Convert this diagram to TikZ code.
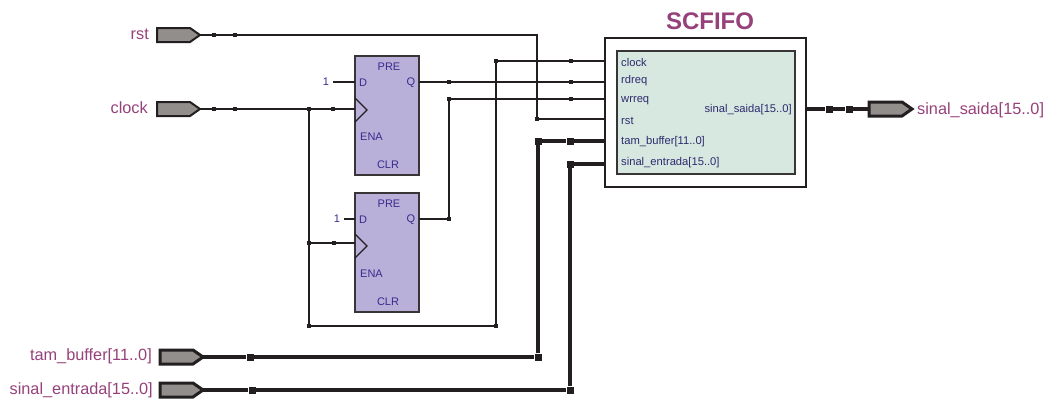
\documentclass[tikz,border=0pt]{standalone}
\usepackage{fontspec}
\setmainfont{Liberation Sans}
\usetikzlibrary{shapes.symbols}
\definecolor{sigtxt}{HTML}{96417A}
\definecolor{blktxt}{HTML}{3A2A8C}
\definecolor{fifotxt}{HTML}{2E2A6E}
\definecolor{ink}{HTML}{231F20}
\definecolor{pingray}{HTML}{918E8C}
\definecolor{fffill}{HTML}{B9B0D9}
\definecolor{fifofill}{HTML}{D6E8E0}
\tikzset{wire/.style={draw=ink, line width=1.8pt},
  bus/.style={draw=ink, line width=3.4pt},
  jn/.style={fill=ink, rectangle, inner sep=0pt, minimum size=4.5pt},
  jnb/.style={fill=ink, rectangle, inner sep=0pt, minimum size=7pt},
  pin/.style={signal, signal to=east, signal from=nowhere, signal pointer angle=70,
    draw=ink, fill=pingray, line width=2pt, inner sep=0pt, outer sep=0pt,
    minimum width=43pt, minimum height=14pt, anchor=west},
  buspin/.style={pin, line width=3pt},
  sig/.style={text=sigtxt, font=\fontsize{16.3}{18}\selectfont, inner sep=0pt},
  ff/.style={draw=ink!90, fill=fffill, line width=1.5pt, outer sep=0pt,
    minimum width=64pt, minimum height=119pt, anchor=north west},
  fftxt/.style={text=blktxt, font=\fontsize{11}{12}\selectfont, inner sep=0pt},
  port/.style={text=fifotxt, font=\fontsize{11.2}{12}\selectfont, inner sep=0pt, anchor=west}}

\begin{document}
\begin{tikzpicture}[x=1pt,y=-1pt]
\useasboundingbox (0,0) rectangle (1047,399);

% entity
\node[draw=ink, fill=white, line width=1.5pt, outer sep=0pt, minimum width=201pt, minimum height=149pt, anchor=north west] (fifo) at (605,38) {};
\node[draw=ink!90, fill=fifofill, line width=1.5pt, outer sep=0pt, minimum width=178pt, minimum height=123pt, anchor=north west] (fifo_in) at (617,51) {};
\node[text=sigtxt, font=\fontsize{24}{26}\selectfont\bfseries, inner sep=0pt] (fifo_name) at (710,21) {SCFIFO};
\foreach \nm/\lbl/\ytxt/\yw in {clock/clock/62/61, rdreq/rdreq/81/82, wrreq/wrreq/101/99, rst/rst/121/119,
    tam/tam\_buffer[11..0]/142/141, ent/sinal\_entrada[15..0]/163/164}{
  \node[port] (txt_\nm) at (621,\ytxt) {\lbl};
  \coordinate (port_\nm) at (605,\yw);
}
\node[port, anchor=east] (txt_saida) at (792,110) {sinal\_saida[15..0]};
\coordinate (port_saida) at (806,109);

% flip-flops
\foreach \ffn/\ytop/\yclk/\xone in {ffa/56/110/326, ffb/193/246/337}{
  \node[ff] (\ffn) at (355,\ytop) {};
  \node[fftxt] (\ffn_pre) at (389,\ytop+11) {PRE};
  \node[fftxt] (\ffn_d) at (363,\ytop+26.5) {D};
  \node[fftxt] (\ffn_q) at (411,\ytop+26.5) {Q};
  \node[fftxt, anchor=west] (\ffn_ena) at (360,\ytop+81) {ENA};
  \node[fftxt] (\ffn_clr) at (388,\ytop+109) {CLR};
  \node[fftxt] (\ffn_one) at (\xone,\ytop+26) {1};
  \draw[draw=ink, line width=1.3pt] (355,\yclk-12) -- (367,\yclk) -- (355,\yclk+12);
  \coordinate (\ffn_din) at (355,\ytop+26);
  \coordinate (\ffn_qout) at (419,\ytop+26);
  \coordinate (\ffn_from) at (\xone+7,\ytop+26);
  \draw[wire] (\ffn_from) -- (\ffn_din);
}
\coordinate (ffa_clk) at (355,109);
\coordinate (ffb_clk) at (355,243);

% pins
\node[pin] (rst_pin) at (157,35) {};
\node[pin] (clock_pin) at (157,109) {};
\node[buspin] (tam_pin) at (160,357) {};
\node[buspin] (ent_pin) at (160,390) {};
\node[buspin] (saida_pin) at (869,109) {};
\node[sig, anchor=east] (rst_lbl) at (149,34) {rst};
\node[sig, anchor=east] (clock_lbl) at (148,108) {clock};
\node[sig, anchor=east] (tam_lbl) at (152,356) {tam\_buffer[11..0]};
\node[sig, anchor=east] (ent_lbl) at (153,390) {sinal\_entrada[15..0]};
\node[sig, anchor=west] (saida_lbl) at (917,110) {sinal\_saida[15..0]};

% junction marks
\foreach \nm/\xx/\yy in {ra/214/35, rb/235/35, rc/537/119, ca/214/109, cb/235/109, cc/309/109, cd/333/109,
    ce/309/243, cf/334/243, cg/309/326, ch/496/326, ci/496/61, cj/571/61,
    qa/449/82, qb/571/82, qc/449/219, qd/449/99, qe/571/99}{
  \node[jn] (\nm) at (\xx,\yy) {};
}
\foreach \nm/\xx/\yy in {ta/250/357, tb/538/357, tc/538/141, td/570/141, ea/252/390, eb/570/390, ec/570/164,
    sa/829/109, sb/849/109}{
  \node[jnb] (\nm) at (\xx,\yy) {};
}

% wires
\draw[wire] (rst_pin.east) -- (ra) -- (rb) -| (rc.center) -- (port_rst);
\draw[wire] (clock_pin.east) -- (ca) -- (cb) -- (cc) -- (cd) -- (ffa_clk);
\draw[wire] (cc) -- (ce) -- (cg) -- (ch) -- (ci) -- (cj) -- (port_clock);
\draw[wire] (ce) -- (cf) -- (ffb_clk);
\draw[wire] (ffa_qout) -- (qa) -- (qb) -- (port_rdreq);
\draw[wire] (ffb_qout) -- (qc) -- (qd) -- (qe) -- (port_wrreq);
\draw[bus] (tam_pin.east) -- (ta) -- (tb) -- (tc) -- (td) -- (port_tam);
\draw[bus] (ent_pin.east) -- (ea) -- (eb) -- (ec) -- (port_ent);
\draw[bus] (port_saida) -- (sa) -- (sb) -- (saida_pin.west);
\end{tikzpicture}
\end{document}
